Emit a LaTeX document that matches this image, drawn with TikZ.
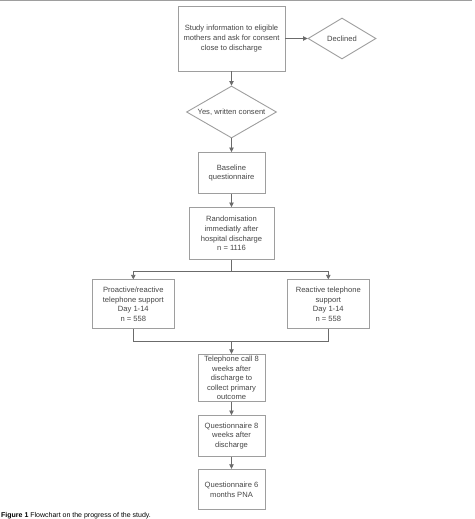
\documentclass[tikz,border=0pt]{standalone}
\usepackage{fontspec}
\setmainfont{Liberation Sans}
\usetikzlibrary{arrows.meta,positioning,shapes.geometric}
\definecolor{boxgray}{rgb}{0.62,0.62,0.62}
\definecolor{txtgray}{rgb}{0.27,0.27,0.27}
\definecolor{linegray}{rgb}{0.42,0.42,0.42}
\tikzset{
  stepbox/.style={draw=boxgray, line width=0.9pt, align=center, text=txtgray,
    inner sep=0pt, font=\fontsize{7.6}{9.6}\selectfont},
  choice/.style={diamond, draw=boxgray, line width=0.9pt, align=center, text=txtgray,
    inner sep=0pt, font=\fontsize{7.6}{9.6}\selectfont},
  flow/.style={draw=linegray, line width=0.8pt, -{Triangle[length=4.5pt,width=4.5pt]}},
  link/.style={draw=linegray, line width=0.8pt}
}

\begin{document}
\begin{tikzpicture}[x=1pt, y=-1pt]
        \useasboundingbox (0,0) rectangle (474,519);

        % page edge
        \draw[boxgray, line width=1.4pt] (0,0.7) -- (472,0.7);

        % consent
        \node[stepbox, minimum width=107pt, minimum height=65pt] (info) at (231.5,38.5)
          {Study information to eligible\\mothers and ask for consent\\close to discharge};
        \node[choice, minimum width=68pt, minimum height=41pt] (declined) at (342,38.5) {Declined};
        \node[choice, aspect=1.73, minimum width=90pt, minimum height=52pt] (yes) at (231.5,112)
          {Yes, written consent};

        % baseline and randomisation
        \node[stepbox, minimum width=67pt, minimum height=41pt] (baseline) at (231.5,173)
          {Baseline\\questionnaire};
        \node[stepbox, minimum width=85pt, minimum height=52pt] (random) at (231.5,233.5)
          {Randomisation\\immediatly after\\hospital discharge\\n = 1116};

        % the two arms
        \node[stepbox, minimum width=82pt, minimum height=49pt] (proactive) at (133.3,304.3)
          {Proactive/reactive\\telephone support\\Day 1-14\\n = 558};
        \node[stepbox, minimum width=82pt, minimum height=49pt] (reactive) at (328.3,304.3)
          {Reactive telephone\\support\\Day 1-14\\n = 558};

        % follow-up
        \node[stepbox, minimum width=67pt, minimum height=47.5pt] (call) at (231.5,378)
          {Telephone call 8\\weeks after\\discharge to\\collect primary\\outcome};
        \node[stepbox, minimum width=67pt, minimum height=41pt] (quest8) at (231.5,436)
          {Questionnaire 8\\weeks after\\discharge};
        \node[stepbox, minimum width=67pt, minimum height=40.5pt] (quest6) at (231.5,489.5)
          {Questionnaire 6\\months PNA};

        \coordinate (split) at (231.5,271.3);
        \coordinate (join) at (231.5,341);

        % connectors
        \draw[flow] (info) -- (declined);
        \draw[flow] (info) -- (yes);
        \draw[flow] (yes) -- (baseline);
        \draw[flow] (baseline) -- (random);
        \draw[link] (random) -- (split);
        \draw[flow] (split) -| (proactive);
        \draw[flow] (split) -| (reactive);
        \draw[link] (proactive) |- (join);
        \draw[link] (reactive) |- (join);
        \draw[flow] (join) -- (call);
        \draw[flow] (call) -- (quest8);
        \draw[flow] (quest8) -- (quest6);

        \node[anchor=base west, inner sep=0pt, font=\fontsize{7}{8}\selectfont] (caption) at (1,517)
          {\textbf{Figure 1} Flowchart on the progress of the study.};
      \end{tikzpicture}
\end{document}
